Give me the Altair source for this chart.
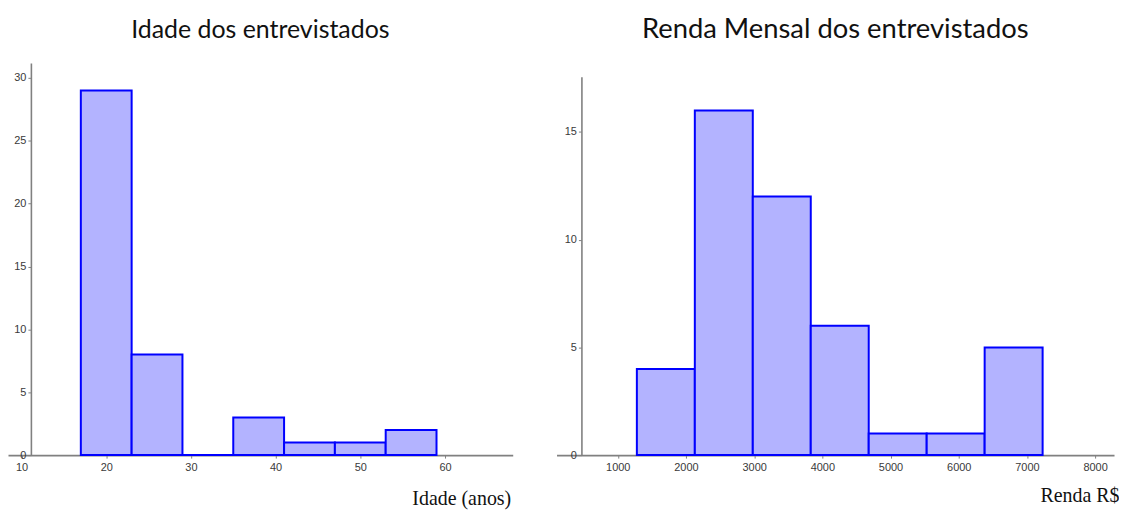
import altair as alt
import pandas as pd

# Idade dos entrevistados (histogram)
idade_inicio = [17, 23, 29, 35, 41, 47, 53]
idade_fim = [23, 29, 35, 41, 47, 53, 59]
idade_freq = [29, 8, 0, 3, 1, 1, 2]
idade_ticks_x = [10, 20, 30, 40, 50, 60]
idade_ticks_y = [0, 5, 10, 15, 20, 25, 30]

# Renda Mensal dos entrevistados (histogram)
renda_inicio = [1280, 2130, 2980, 3830, 4680, 5530, 6380]
renda_fim = [2130, 2980, 3830, 4680, 5530, 6380, 7230]
renda_freq = [4, 16, 12, 6, 1, 1, 5]
renda_ticks_x = [1000, 2000, 3000, 4000, 5000, 6000, 7000, 8000]
renda_ticks_y = [0, 5, 10, 15]

df_idade = pd.DataFrame({"inicio": idade_inicio, "fim": idade_fim, "freq": idade_freq})
df_renda = pd.DataFrame({"inicio": renda_inicio, "fim": renda_fim, "freq": renda_freq})

FILL = "#b3b3ff"
STROKE = "#0000ff"
AXIS_GRAY = "#808080"
PANEL_H = 394

def x_axis(values, title, tx, ty):
    return alt.Axis(
        values=values, title=title, grid=False, format="d",
        domainColor=AXIS_GRAY, domainWidth=1.6, tickColor=AXIS_GRAY, tickSize=3, tickWidth=1,
        labelFont="Liberation Sans", labelFontSize=11, labelColor="#3a3a3a", labelPadding=3,
        titleFont="Liberation Serif", titleFontSize=20, titleFontWeight="normal", titleColor="#111111",
        titleAnchor="end", titleAlign="right", titleBaseline="alphabetic", titleX=tx, titleY=ty,
    )

def y_axis(values, off):
    return alt.Axis(
        values=values, title=None, grid=False, offset=off, format="d",
        domainColor=AXIS_GRAY, domainWidth=1.6, tickColor=AXIS_GRAY, tickSize=3, tickWidth=1,
        labelFont="Liberation Sans", labelFontSize=11, labelColor="#3a3a3a", labelPadding=2,
    )

def title(text, size, off):
    return alt.TitleParams(text=text, font="Lato", fontSize=size, fontWeight="normal", color="#111111",
                           anchor="middle", frame="group", baseline="alphabetic", offset=off)

left = alt.Chart(df_idade).mark_rect(fill=FILL, stroke=STROKE, strokeWidth=2).encode(
    x=alt.X("inicio:Q", scale=alt.Scale(domain=[8.4, 68.0], nice=False, zero=False),
            axis=x_axis(idade_ticks_x, "Idade (anos)", 505, 50)),
    x2="fim:Q",
    y=alt.Y("freq:Q", scale=alt.Scale(domain=[0, 31.2], nice=False), axis=y_axis(idade_ticks_y, -23)),
    y2=alt.datum(0),
).properties(width=507, height=PANEL_H, title=title("Idade dos entrevistados", 25, 0))

right = alt.Chart(df_renda).mark_rect(fill=FILL, stroke=STROKE, strokeWidth=2).encode(
    x=alt.X("inicio:Q", scale=alt.Scale(domain=[102, 8277], nice=False, zero=False),
            axis=x_axis(renda_ticks_x, "Renda R$", 565, 47)),
    x2="fim:Q",
    y=alt.Y("freq:Q", scale=alt.Scale(domain=[0, 17.56], range=[PANEL_H, 14], nice=False),
            axis=y_axis(renda_ticks_y, -25)),
    y2=alt.datum(0),
).properties(width=560, height=PANEL_H, title=title("Renda Mensal dos entrevistados", 27.5, -2.5))

chart = alt.hconcat(left, right, spacing=44).properties(
    padding={"left": 0, "top": 7, "right": 0, "bottom": 0},
    background="white",
).configure_view(stroke=None, strokeWidth=0)

chart.save("out.html", embed_options={"renderer": "svg", "actions": False})
